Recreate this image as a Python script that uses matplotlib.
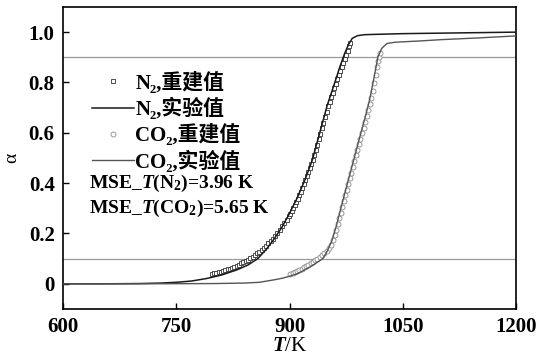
import matplotlib
matplotlib.use("Agg")
import matplotlib.pyplot as plt

plt.rcParams['font.family'] = ['Liberation Serif', 'DejaVu Serif', 'Noto Sans CJK SC']
plt.rcParams['font.weight'] = 'bold'
plt.rcParams['mathtext.fontset'] = 'custom'
plt.rcParams['mathtext.rm'] = 'Liberation Serif:bold'
plt.rcParams['mathtext.it'] = 'Liberation Serif:italic:bold'
plt.rcParams['mathtext.bf'] = 'Liberation Serif:bold'

# N2 experimental curve
t_n2 = [600, 650, 700, 730, 750, 770, 790, 810, 830, 845, 858, 870, 880, 890, 900,
        910, 920, 930, 940, 950, 960, 967, 973, 978, 983, 990, 1000, 1050, 1100, 1150, 1200]
a_n2 = [0, 0, 0.001, 0.003, 0.006, 0.011, 0.021, 0.035, 0.055, 0.075, 0.1, 0.14, 0.18,
        0.225, 0.28, 0.34, 0.41, 0.49, 0.6, 0.71, 0.8, 0.865, 0.915, 0.95, 0.975, 0.986,
        0.99, 0.994, 0.996, 0.998, 1.0]

# N2 reconstructed points
t_n2_rec = [797, 800, 803, 806, 809, 812, 815, 818, 821, 824, 827, 830, 833, 836, 839,
            842, 845, 848, 851, 854, 857, 860, 863, 866, 869, 872, 875, 878, 881, 884,
            887, 890, 893, 896, 899, 901, 903, 905, 907, 909, 911, 913, 915, 917, 919,
            921, 923, 925, 927, 929, 931, 933, 935, 937, 939, 941, 943, 945, 947, 949,
            951, 953, 955, 957, 959, 961, 963, 965, 967, 969, 971, 973, 975, 977, 979, 980.5]
a_n2_rec = [0.040, 0.042, 0.044, 0.046, 0.048, 0.051, 0.054, 0.057, 0.060, 0.064, 0.068,
            0.072, 0.076, 0.081, 0.086, 0.091, 0.096, 0.102, 0.108, 0.114, 0.121, 0.128,
            0.136, 0.144, 0.152, 0.161, 0.170, 0.180, 0.191, 0.203, 0.215, 0.228, 0.241,
            0.255, 0.269, 0.279, 0.290, 0.301, 0.313, 0.325, 0.338, 0.352, 0.366, 0.381,
            0.396, 0.411, 0.427, 0.443, 0.459, 0.475, 0.492, 0.510, 0.530, 0.552, 0.574,
            0.596, 0.618, 0.640, 0.662, 0.684, 0.705, 0.724, 0.742, 0.760, 0.778, 0.795,
            0.812, 0.829, 0.845, 0.861, 0.877, 0.893, 0.910, 0.927, 0.943, 0.956]

# CO2 experimental curve
t_co2 = [600, 700, 800, 840, 860, 870, 880, 890, 900, 910, 920, 930, 944, 950, 956, 962,
         968, 975, 983, 991, 1000, 1006, 1012, 1017, 1022, 1029, 1040, 1073, 1100, 1150, 1200]
a_co2 = [0, 0, 0.001, 0.003, 0.006, 0.011, 0.016, 0.022, 0.03, 0.04, 0.055, 0.072, 0.1,
         0.13, 0.17, 0.23, 0.30, 0.38, 0.47, 0.56, 0.66, 0.73, 0.82, 0.90, 0.935, 0.955,
         0.96, 0.965, 0.97, 0.977, 0.985]

# CO2 reconstructed points
t_co2_rec = [901, 904, 907, 910, 913, 916, 919, 922, 925, 928, 931, 934, 937, 940, 943,
             946, 949, 952, 955, 958, 960, 962, 964, 966, 968, 970, 972, 974, 976, 978,
             980, 982, 984, 986, 988, 990, 992, 994, 996, 998, 1000, 1002, 1004, 1006,
             1008, 1010, 1012, 1014, 1016, 1017.5, 1018.5, 1019.5]
a_co2_rec = [0.038, 0.042, 0.046, 0.050, 0.055, 0.060, 0.065, 0.070, 0.076, 0.082, 0.088,
             0.094, 0.100, 0.106, 0.113, 0.122, 0.132, 0.143, 0.156, 0.175, 0.195, 0.215,
             0.237, 0.260, 0.283, 0.306, 0.329, 0.352, 0.374, 0.397, 0.420, 0.442, 0.464,
             0.487, 0.510, 0.532, 0.554, 0.576, 0.598, 0.620, 0.643, 0.666, 0.690, 0.713,
             0.738, 0.768, 0.798, 0.830, 0.862, 0.885, 0.900, 0.916]

ref_levels = [0.1, 0.9]

fig = plt.figure(figsize=(5.4, 3.63), dpi=100)
ax = fig.add_axes([0.1167, 0.1488, 0.8389, 0.8320])

for lv in ref_levels:
    ax.axhline(lv, color='#9a9a9a', lw=0.9, zorder=1)

ax.plot(t_n2_rec, a_n2_rec, ls='none', marker='s', ms=3.4, mfc='white',
        mec='#333333', mew=0.6, zorder=2, label='N₂,重建值')
ax.plot(t_n2, a_n2, color='#1a1a1a', lw=1.1, zorder=3, label='N₂,实验值')
ax.plot(t_co2_rec, a_co2_rec, ls='none', marker='o', ms=3.6, mfc='white',
        mec='#8a8a8a', mew=0.6, zorder=2, label='CO₂,重建值')
ax.plot(t_co2, a_co2, color='#555555', lw=1.0, zorder=3, label='CO₂,实验值')

ax.set_xlim(600, 1200)
ax.set_ylim(-0.1, 1.1)
ax.set_xticks([600, 750, 900, 1050, 1200])
ax.set_yticks([0, 0.2, 0.4, 0.6, 0.8, 1.0])
ax.set_yticklabels(['0', '0.2', '0.4', '0.6', '0.8', '1.0'])
ax.tick_params(direction='in', length=4, width=1, labelsize=15, pad=6)
for s in ax.spines.values():
    s.set_linewidth(1.2)

ax.set_xlabel('$T$/K', fontsize=15, labelpad=0)
ax.set_ylabel('α', fontsize=14, labelpad=6)

leg = ax.legend(loc='upper left', bbox_to_anchor=(0.064, 0.786), frameon=False,
                fontsize=15, handlelength=2.0, handletextpad=0.08, labelspacing=0.2,
                borderpad=0, borderaxespad=0)

ax.text(0.057, 0.417, 'MSE_$T$(N$_2$)=3.96 K', transform=ax.transAxes,
        fontsize=14, va='center', ha='left')
ax.text(0.057, 0.334, 'MSE_$T$(CO$_2$)=5.65 K', transform=ax.transAxes,
        fontsize=14, va='center', ha='left')

fig.savefig('out.png', dpi=100)
